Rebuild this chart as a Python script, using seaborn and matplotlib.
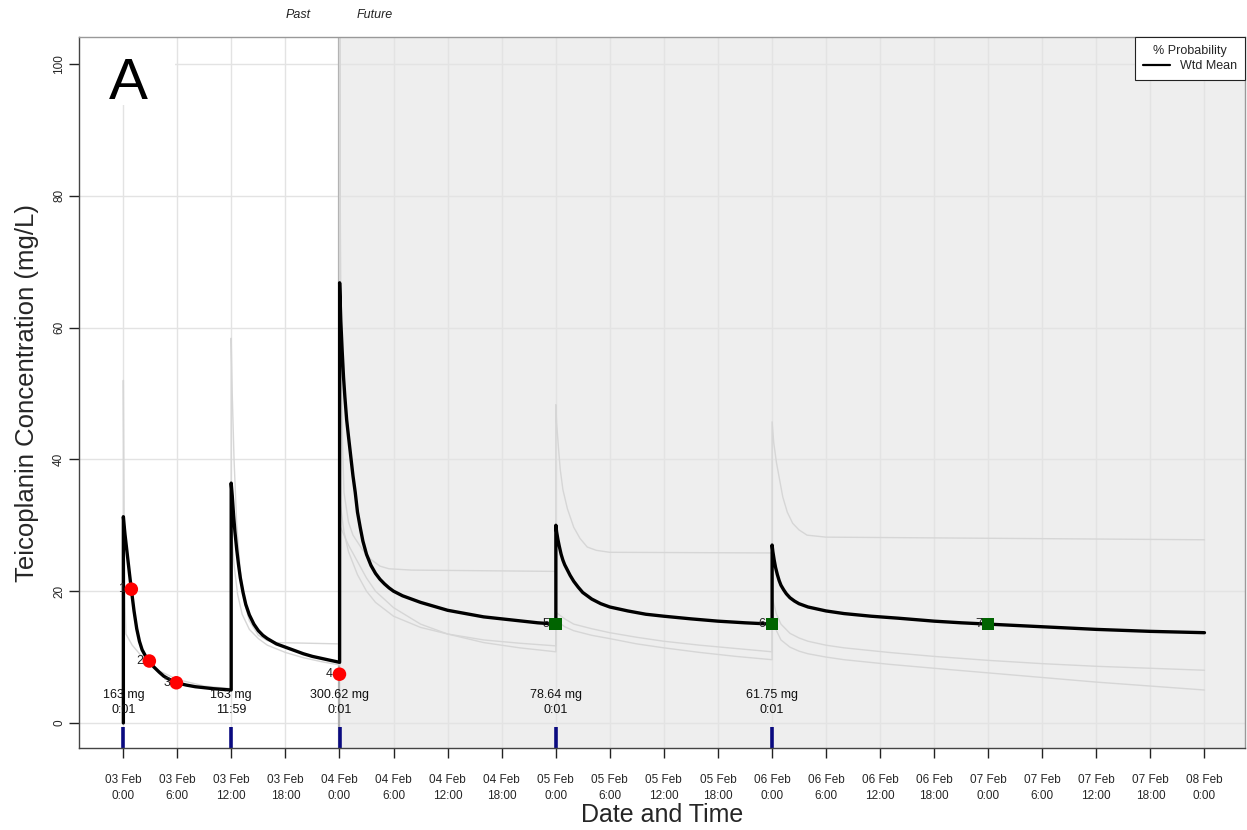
import numpy as np
import pandas as pd
import matplotlib
matplotlib.use("Agg")
import matplotlib.pyplot as plt
from matplotlib.lines import Line2D
from matplotlib.patches import Rectangle
import seaborn as sns

# ---------------- data ----------------
# time axis: hours since 03 Feb 0:00
mean_t = [0.017, 0.017, 0.1, 0.2, 0.35, 0.5, 0.7, 0.9, 1.2, 1.5, 1.8, 2.1, 2.5, 2.9, 3.4, 4.0, 4.5, 5.0, 5.9,
          7.0, 8.0, 9.0, 10.0, 11.0, 11.983,
          11.983, 12.1, 12.25, 12.4, 12.6, 12.8, 13.0, 13.3, 13.6, 14.0, 14.5, 15.0, 15.5, 16.0, 17.0, 18.0,
          19.0, 20.0, 21.0, 22.0, 23.0, 24.017,
          24.017, 24.15, 24.3, 24.45, 24.6, 24.8, 25.0, 25.25, 25.5, 25.75, 26.0, 26.3, 26.6, 27.0, 27.5,
          28.0, 28.5, 29.0, 29.5, 30.0, 31.0, 32.0, 33.0, 34.0, 36.0, 38.0, 40.0, 42.0, 44.0, 46.0, 48.017,
          48.017, 48.1, 48.25, 48.4, 48.6, 48.8, 49.0, 49.3, 49.6, 50.0, 50.5, 51.0, 52.0, 53.0, 54.0,
          56.0, 58.0, 60.0, 63.0, 66.0, 69.0, 72.017,
          72.017, 72.1, 72.25, 72.4, 72.6, 72.8, 73.0, 73.3, 73.6, 74.0, 74.5, 75.0, 76.0, 77.0, 78.0,
          80.0, 83.0, 86.0, 90.0, 93.0, 96.0, 102.0, 108.0, 114.0, 120.0]
mean_c = [0.0, 31.3, 30.0, 28.6, 26.8, 25.0, 22.6, 20.3, 17.0, 14.3, 12.4, 11.1, 10.1, 9.4, 8.5, 7.7, 7.1, 6.7, 6.1,
          5.75, 5.5, 5.35, 5.2, 5.1, 5.0,
          36.4, 34.5, 31.5, 29.0, 26.3, 24.0, 22.0, 19.8, 18.0, 16.4, 15.0, 14.0, 13.3, 12.8, 12.0, 11.5,
          11.0, 10.5, 10.1, 9.8, 9.5, 9.2,
          66.8, 61.0, 56.5, 52.5, 49.5, 46.0, 43.5, 40.5, 37.5, 35.0, 32.0, 29.7, 27.6, 25.6, 23.9,
          22.7, 21.8, 21.1, 20.5, 20.0, 19.3, 18.8, 18.3, 17.9, 17.1, 16.6, 16.1, 15.8, 15.5, 15.2, 15.0,
          30.0, 29.0, 27.8, 26.8, 25.6, 24.7, 24.0, 23.2, 22.4, 21.5, 20.6, 19.8, 18.8, 18.1, 17.6,
          17.0, 16.5, 16.2, 15.8, 15.45, 15.2, 15.0,
          27.0, 26.0, 24.7, 23.6, 22.5, 21.6, 20.9, 20.2, 19.6, 19.0, 18.5, 18.1, 17.6, 17.3, 17.0,
          16.6, 16.2, 15.9, 15.45, 15.2, 15.0, 14.6, 14.2, 13.9, 13.7]

grey_high_t = [0.017, 0.017, 0.1, 0.2, 0.3, 1.0, 2.0, 3.0, 4.0, 6.0, 9.0, 11.983,
               11.983, 12.1, 12.3, 12.6, 13.0, 13.5, 14.0, 15.0, 16.0, 17.0, 24.017,
               24.017, 24.1, 24.2, 24.35, 24.5, 25.0, 25.5, 26.6, 27.5, 28.5, 29.5, 32.0, 48.017,
               48.017, 48.1, 48.3, 48.5, 48.8, 49.3, 50.0, 50.7, 51.5, 52.5, 54.0, 72.017,
               72.017, 72.2, 72.5, 73.2, 73.7, 74.3, 75.0, 75.9, 78.0, 120.0]
grey_high_c = [0.0, 52.0, 30.0, 18.0, 13.5, 11.8, 10.2, 8.9, 7.9, 6.6, 5.6, 5.2,
               58.4, 50.0, 40.0, 30.0, 23.0, 18.0, 15.5, 13.3, 12.5, 12.2, 12.0,
               110.0, 75.0, 55.0, 42.0, 35.0, 30.5, 28.5, 26.2, 24.8, 23.8, 23.4, 23.2, 23.0,
               48.3, 45.5, 41.9, 38.5, 35.4, 32.5, 29.7, 28.0, 26.7, 26.2, 25.9, 25.8,
               45.7, 42.5, 39.5, 34.3, 32.0, 30.3, 29.3, 28.5, 28.2, 27.8]

grey_a_t = [11.983, 11.983, 12.3, 12.7, 13.2, 14.0, 15.0, 16.0, 18.0, 20.0, 22.0, 24.017,
            24.017, 24.5, 25.0, 26.0, 27.0, 28.0, 30.0, 33.0, 36.0, 40.0, 44.0, 48.017,
            48.017, 49.0, 50.0, 52.0, 54.0, 57.0, 60.0, 64.0, 68.0, 72.017,
            72.017, 72.5, 73.0, 74.0, 75.0, 76.0, 78.0, 80.0, 85.0, 90.0, 96.0, 102.0, 108.0, 114.0, 120.0]
grey_a_c = [5.0, 30.0, 24.0, 19.5, 16.5, 14.2, 12.8, 11.8, 10.7, 9.9, 9.3, 8.8,
            34.0, 29.0, 26.0, 22.5, 20.0, 18.3, 16.2, 14.5, 13.5, 12.6, 12.1, 11.7,
            16.8, 15.8, 15.0, 14.3, 13.7, 13.0, 12.4, 11.8, 11.3, 10.8,
            19.1, 16.5, 15.0, 13.6, 12.9, 12.4, 11.8, 11.4, 10.7, 10.1, 9.5, 9.0, 8.6, 8.3, 8.0]

grey_b_t = [24.017, 24.017, 25.0, 26.0, 27.0, 28.0, 30.0, 33.0, 36.0, 40.0, 44.0, 48.017,
            48.017, 49.0, 50.0, 52.0, 54.0, 57.0, 60.0, 64.0, 68.0, 72.017,
            72.017, 72.5, 73.0, 74.0, 75.0, 76.0, 78.0, 80.0, 85.0, 90.0, 96.0, 102.0, 108.0, 114.0, 120.0]
grey_b_c = [9.0, 30.0, 27.0, 24.5, 22.0, 20.0, 17.5, 15.0, 13.5, 12.2, 11.4, 10.8,
            15.6, 14.6, 14.0, 13.3, 12.8, 12.0, 11.4, 10.7, 10.1, 9.6,
            16.7, 14.0, 12.6, 11.5, 10.9, 10.5, 10.0, 9.6, 8.9, 8.3, 7.6, 6.9, 6.2, 5.6, 5.0]

obs_t = [0.9, 2.9, 5.9, 24.0]
obs_c = [20.3, 9.4, 6.1, 7.4]
obs_id = ["1", "2", "3", "4"]

fut_t = [48.0, 72.0, 96.0]
fut_c = [15.0, 15.0, 15.0]
fut_id = ["5", "6", "7"]

dose_t = [0.017, 11.983, 24.017, 48.017, 72.017]
dose_amt = ["163 mg", "163 mg", "300.62 mg", "78.64 mg", "61.75 mg"]
dose_clock = ["0:01", "11:59", "0:01", "0:01", "0:01"]

xtick_pos = list(range(0, 121, 6))
xtick_labels = ["03 Feb\n0:00", "03 Feb\n6:00", "03 Feb\n12:00", "03 Feb\n18:00",
                "04 Feb\n0:00", "04 Feb\n6:00", "04 Feb\n12:00", "04 Feb\n18:00",
                "05 Feb\n0:00", "05 Feb\n6:00", "05 Feb\n12:00", "05 Feb\n18:00",
                "06 Feb\n0:00", "06 Feb\n6:00", "06 Feb\n12:00", "06 Feb\n18:00",
                "07 Feb\n0:00", "07 Feb\n6:00", "07 Feb\n12:00", "07 Feb\n18:00",
                "08 Feb\n0:00"]
ytick_pos = [0, 20, 40, 60, 80, 100]
now_t = 24.0

# ---------------- figure ----------------
sns.set_theme(style="white")
plt.rcParams["font.family"] = ["Liberation Sans", "DejaVu Sans"]

fig = plt.figure(figsize=(12.47, 8.30), dpi=100)
ax = fig.add_axes([0.0634, 0.0988, 0.935, 0.8566])
xmin, xmax = -4.9, 124.5
ymin, ymax = -3.8, 104.1
ax.set_xlim(xmin, xmax)
ax.set_ylim(ymin, ymax)

# future shading
ax.axvspan(now_t, xmax, color="#eeeeee", zorder=0.2, lw=0)
ax.set_axisbelow(True)
ax.grid(True, color="#e3e3e3", lw=1.0)
ax.axvline(now_t, color="#b0b0b0", lw=1.6, zorder=0.6)

grey_df = pd.concat([
    pd.DataFrame({"t": grey_high_t, "c": grey_high_c, "u": "h"}),
    pd.DataFrame({"t": grey_a_t, "c": grey_a_c, "u": "a"}),
    pd.DataFrame({"t": grey_b_t, "c": grey_b_c, "u": "b"}),
], ignore_index=True)
sns.lineplot(data=grey_df, x="t", y="c", units="u", estimator=None, sort=False,
             color="#d6d6d6", lw=1.0, ax=ax, zorder=1)

mean_df = pd.DataFrame({"t": mean_t, "c": mean_c})
sns.lineplot(data=mean_df, x="t", y="c", estimator=None, sort=False,
             color="black", lw=2.4, ax=ax, zorder=3)

obs_df = pd.DataFrame({"t": obs_t, "c": obs_c})
sns.scatterplot(data=obs_df, x="t", y="c", color="#ff0000", s=95, marker="o",
                edgecolor="none", ax=ax, zorder=4)
for t, c, lab in zip(obs_t, obs_c, obs_id):
    ax.text(t - 0.7, c, lab, ha="right", va="center", fontsize=9, color="#222222", zorder=5)

fut_df = pd.DataFrame({"t": fut_t, "c": fut_c})
sns.scatterplot(data=fut_df, x="t", y="c", color="#006400", s=80, marker="s",
                edgecolor="none", ax=ax, zorder=4)
for t, c, lab in zip(fut_t, fut_c, fut_id):
    ax.text(t - 0.7, c, lab, ha="right", va="center", fontsize=9, color="#222222", zorder=5)

# dose markers and labels
for t, amt, clk in zip(dose_t, dose_amt, dose_clock):
    ax.plot([t, t], [-0.6, ymin], color="#0a0a80", lw=2.6, solid_capstyle="butt", zorder=4)
    ax.text(t, 3.1, f"{amt}\n{clk}", ha="center", va="center", fontsize=9,
            linespacing=1.35, color="#111111", zorder=5)

# axes styling
ax.set_xticks(xtick_pos)
ax.set_xticklabels(xtick_labels, fontsize=8.5, linespacing=1.35)
ax.set_yticks(ytick_pos)
ax.set_yticklabels([str(v) for v in ytick_pos], fontsize=8.5, rotation=90, va="center")
ax.tick_params(axis="both", which="major", bottom=True, left=True, direction="out",
               length=7, width=1, color="#222222")
ax.tick_params(axis="x", pad=12)
ax.tick_params(axis="y", pad=3)
for side, sp in ax.spines.items():
    sp.set_color("#444444")
    sp.set_linewidth(1.0)
    sp.set_zorder(7)
ax.spines["top"].set_color("#999999")
ax.spines["right"].set_color("#999999")

ax.set_xlabel("Date and Time", fontsize=18, labelpad=1)
ax.set_ylabel("Teicoplanin Concentration (mg/L)", fontsize=18.5, labelpad=10)

# Past / Future labels
ax.text(20.8, 1.031, "Past", transform=ax.get_xaxis_transform(), ha="right", va="center",
        fontsize=9, style="italic", color="#222222")
ax.text(25.9, 1.031, "Future", transform=ax.get_xaxis_transform(), ha="left", va="center",
        fontsize=9, style="italic", color="#222222")

# panel letter on white box
ax.add_patch(Rectangle((0, 0.904), 0.0823, 0.096, transform=ax.transAxes,
                       facecolor="white", edgecolor="none", zorder=2.2))
ax.text(0.0425, 0.934, "A", transform=ax.transAxes, ha="center", va="center", fontsize=42,
        color="black", zorder=6)

# legend
handles = [Line2D([0], [0], color="black", lw=1.6, label="Wtd Mean")]
leg = ax.legend(handles=handles, title="% Probability", loc="upper right",
                fontsize=9, title_fontsize=9, frameon=True, fancybox=False,
                borderaxespad=0, handlelength=2.2, borderpad=0.6, labelspacing=0.3)
leg.get_frame().set_edgecolor("#222222")
leg.get_frame().set_linewidth(0.8)
leg.get_frame().set_alpha(1)
leg.set_zorder(10)

fig.savefig("out.png", dpi=100)
